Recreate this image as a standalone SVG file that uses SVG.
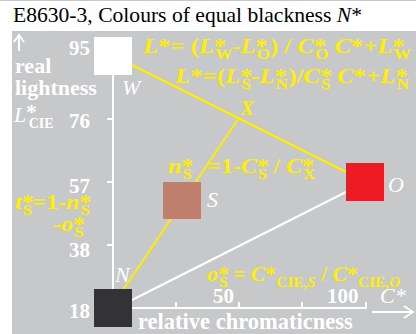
<svg xmlns="http://www.w3.org/2000/svg" width="416" height="334" viewBox="0 0 416 334">
<style>
text{font-family:"Liberation Serif","Times New Roman",serif}
.t{font-size:21px;fill:#000}
.w{fill:#fff;font-weight:bold;font-size:21px}
.wi{fill:#fff;font-style:italic;font-size:22px}
.y{fill:#ffee00;font-weight:bold;font-size:20px}
.i{font-style:italic}
.s{font-size:14px}
.ax{stroke:#fff;stroke-width:2;fill:none}
</style>
<rect x="0" y="0" width="416" height="334" fill="#fff"/>
<rect x="0" y="0" width="416" height="1" fill="#c8c8c8"/>
<rect x="12" y="31" width="404" height="303" fill="#c7c8ca"/>
<text class="t" x="13" y="22" textLength="349" lengthAdjust="spacingAndGlyphs">E8630-3, Colours of equal blackness <tspan class="i">N</tspan>*</text>
<g id="connectors">
<path class="ax" d="M113,75 V308 H366 V302 M107,119 H113 M107,182 H113 M107,245 H113 M176,308 V302 M239,308 V302 M302,308 V302"/>
<path class="ax" d="M19,51 V36 M14,42 L19,35 L24,42"/>
<path class="ax" d="M372,312 H412 M404,306 L413,312 L404,318"/>
<line x1="132" y1="65" x2="346" y2="172" stroke="#ffee00" stroke-width="2.5"/>
<line x1="123" y1="290" x2="238" y2="119" stroke="#ffee00" stroke-width="2"/>
<line x1="132" y1="300" x2="346" y2="192" stroke="#fff" stroke-width="2"/>
</g>
<g id="W"><rect x="94" y="37" width="38" height="38" fill="#fff"/><text class="wi" x="122" y="95">W</text></g>
<g id="N"><rect x="94" y="289" width="38" height="38" fill="#333337"/><text class="wi" x="115" y="282">N</text></g>
<g id="S"><rect x="163" y="182" width="38" height="37" fill="#c07f6c"/><text class="wi" x="207" y="207">S</text></g>
<g id="O"><rect x="346" y="163" width="38" height="38" fill="#ed1c24"/><text class="wi" x="388" y="192">O</text></g>
<g id="X"><text class="y i" x="240" y="115" style="font-size:21px">X</text></g>
<g id="labels">
<text class="w" x="90" y="55" text-anchor="end">95</text>
<text class="w" x="90" y="128" text-anchor="end">76</text>
<text class="w" x="90" y="193" text-anchor="end">57</text>
<text class="w" x="90" y="257" text-anchor="end">38</text>
<text class="w" x="90" y="318" text-anchor="end">18</text>
<text class="w" x="15" y="73" style="font-size:22px">real</text>
<text class="w" x="15" y="95" style="font-size:22px">lightness</text>
<text class="w" x="14" y="122"><tspan class="i" style="font-weight:normal;font-size:22px">L</tspan><tspan dy="-3">*</tspan><tspan dx="-8" dy="9" style="font-size:14px">CIE</tspan></text>
<text class="w" x="213" y="303">50</text>
<text class="w" x="327" y="303">100</text>
<text class="wi" x="380" y="303">C*</text>
<text class="w" x="138" y="329" style="font-size:22.5px">relative chromaticness</text>
<text class="y" transform="translate(143,53) scale(1.23,1)"><tspan class="i">L</tspan>*= (<tspan class="i">L</tspan>*<tspan dx="-9" dy="6" class="s">W</tspan><tspan dy="-6">-</tspan><tspan class="i">L</tspan>*<tspan dx="-9" dy="6" class="s">O</tspan><tspan dy="-6">) / </tspan><tspan class="i">C</tspan>*<tspan dx="-9" dy="6" class="s">O</tspan><tspan dy="-6"> </tspan><tspan class="i">C</tspan>*+<tspan class="i">L</tspan>*<tspan dx="-9" dy="6" class="s">W</tspan></text>
<text class="y" transform="translate(175,83) scale(1.24,1)"><tspan class="i">L</tspan>*=(<tspan class="i">L</tspan>*<tspan dx="-9" dy="6" class="s">S</tspan><tspan dy="-6">-</tspan><tspan class="i">L</tspan>*<tspan dx="-9" dy="6" class="s">N</tspan><tspan dy="-6">)/</tspan><tspan class="i">C</tspan>*<tspan dx="-9" dy="6" class="s">S</tspan><tspan dy="-6"> </tspan><tspan class="i">C</tspan>*+<tspan class="i">L</tspan>*<tspan dx="-9" dy="6" class="s">N</tspan></text>
<text class="y" transform="translate(168,173) scale(1.2,1)"><tspan class="i">n</tspan>*<tspan dx="-9" dy="6" class="s">S</tspan></text>
<text class="y" transform="translate(207,173) scale(1.2,1)">=1-<tspan class="i">C</tspan>*<tspan dx="-9" dy="6" class="s">S</tspan><tspan dy="-6"> / </tspan><tspan class="i">C</tspan>*<tspan dx="-9" dy="6" class="s">X</tspan></text>
<text class="y" transform="translate(15,209) scale(1.2,1)"><tspan class="i">t</tspan>*<tspan dx="-9" dy="6" class="s">S</tspan><tspan dy="-6">=1-</tspan><tspan class="i">n</tspan>*<tspan dx="-9" dy="6" class="s">S</tspan></text>
<text class="y" transform="translate(53,231) scale(1.2,1)">-<tspan class="i">o</tspan>*<tspan dx="-9" dy="6" class="s">S</tspan></text>
<text class="y" transform="translate(207,281) scale(1.09,1)"><tspan class="i">o</tspan>*<tspan dx="-9" dy="6" class="s">S</tspan><tspan dy="-6"> = </tspan><tspan class="i">C</tspan>*<tspan dy="6" class="s">CIE,<tspan class="i">S</tspan></tspan><tspan dy="-6"> / </tspan><tspan class="i">C</tspan>*<tspan dy="6" class="s">CIE,<tspan class="i">O</tspan></tspan></text>
</g>
</svg>
